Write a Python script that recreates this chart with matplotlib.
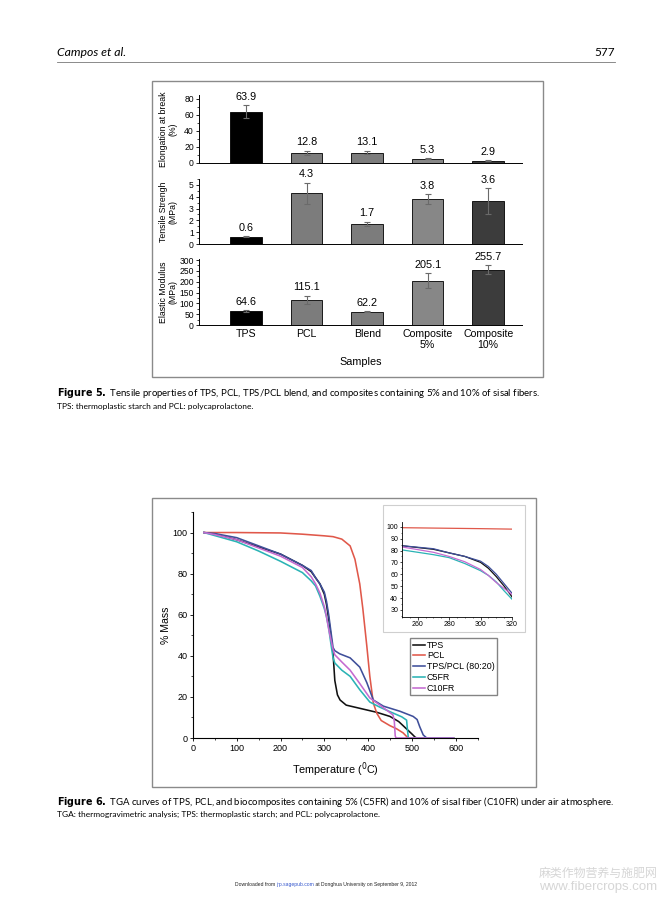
import numpy as np
import matplotlib.pyplot as plt
from matplotlib.patches import Rectangle
from matplotlib.lines import Line2D
from matplotlib.ticker import MultipleLocator

# ---- Figure 5 data ----
samples = ["TPS", "PCL", "Blend", "Composite\n5%", "Composite\n10%"]
elong = [63.9, 12.8, 13.1, 5.3, 2.9]
elong_err = [8.0, 2.5, 2.0, 0.8, 0.8]
tensile = [0.6, 4.3, 1.7, 3.8, 3.6]
tensile_err = [0.05, 0.9, 0.2, 0.4, 1.1]
modulus = [64.6, 115.1, 62.2, 205.1, 255.7]
modulus_err = [3.0, 20.0, 2.0, 33.0, 20.0]
bar_colors = ["#000000", "#7c7c7c", "#7c7c7c", "#878787", "#3c3c3c"]

# ---- Figure 6 data (TGA) ----
tps_T = [25, 50, 100, 150, 200, 250, 270, 280, 290, 300, 305, 310, 315, 320, 324, 330, 336, 350, 380, 420, 450, 470, 490, 500, 508, 512, 595]
tps_m = [100, 99.3, 96.5, 93, 89.5, 84, 81, 78, 75, 70, 65, 58, 50, 41, 28, 21, 18.5, 16, 14.5, 12.5, 10.5, 8, 4, 2, 0.3, 0, 0]
pcl_T = [25, 100, 200, 250, 300, 320, 340, 359, 370, 381, 388, 397, 404, 412, 420, 430, 450, 465, 480, 490, 495, 595]
pcl_m = [100, 100, 99.8, 99.2, 98.4, 98, 96.8, 93.5, 87, 75, 63, 45, 30, 17, 12, 8.5, 6, 4.5, 2.5, 0.3, 0, 0]
blend_T = [25, 50, 100, 150, 200, 250, 270, 280, 290, 300, 305, 310, 315, 320, 324, 335, 359, 381, 397, 412, 435, 473, 503, 512, 518, 526, 534, 595]
blend_m = [100, 99.5, 97.5, 93.5, 89.5, 84, 81.5, 78, 75, 71, 66.5, 60, 52, 44, 42.5, 41, 39, 34.5, 27, 18.5, 15.5, 13, 10.5, 9, 5.5, 1.5, 0, 0]
c5_T = [25, 50, 100, 150, 200, 250, 270, 280, 290, 300, 305, 310, 315, 320, 324, 340, 359, 381, 404, 427, 450, 477, 488, 490, 492, 595]
c5_m = [100, 98.5, 95.5, 91, 86, 80.5, 76.5, 74, 69, 63, 59, 53.5, 46, 39, 36.5, 33, 30, 23.5, 17.5, 15, 12.8, 10.3, 8.7, 4, 0, 0]
c10_T = [25, 50, 100, 150, 200, 250, 270, 280, 290, 300, 305, 310, 315, 320, 324, 340, 359, 381, 404, 427, 446, 457, 460, 462, 464, 595]
c10_m = [100, 99, 96.5, 92.5, 88.5, 83, 78.5, 75, 70.5, 64, 59, 53, 48, 43, 40.5, 37, 33, 26.5, 19.5, 16, 13, 11.2, 8, 1, 0, 0]
tga_labels = ["TPS", "PCL", "TPS/PCL (80:20)", "C5FR", "C10FR"]
tga_colors = ["#111111", "#e0584a", "#3f4f9a", "#2bb3b5", "#c46ad0"]

W, H = 672, 897
plt.rcParams["font.family"] = ["Liberation Sans", "DejaVu Sans"]
fig = plt.figure(figsize=(W / 100, H / 100), dpi=100)
fig.patch.set_facecolor("white")


def box(x0, y0, x1, y1):
    return [x0 / W, 1 - y1 / H, (x1 - x0) / W, (y1 - y0) / H]


def ptext(x, y, s, **kw):
    return fig.text(x / W, 1 - y / H, s, **kw)


def frame(x0, y0, x1, y1, color="#8a8a8a", lw=1.0):
    fig.patches.append(Rectangle((x0 / W, 1 - y1 / H), (x1 - x0) / W, (y1 - y0) / H,
                                 transform=fig.transFigure, fill=False,
                                 edgecolor=color, linewidth=lw))


# header
ptext(57, 52, "Campos et al.", fontsize=8.8, style="italic", family="Lato", va="center")
ptext(615, 52, "577", fontsize=8.5, family="Lato", va="center", ha="right")
fig.add_artist(Line2D([57 / W, 615 / W], [1 - 62 / H, 1 - 62 / H], color="#777777", lw=0.6))

# ---- Figure 5 ----
frame(152, 81, 543, 377)
pos = np.arange(1, 6)
panels = [
    (box(199, 95, 522, 163), elong, elong_err, (0, 85), 20, 10, "Elongation at break\n(%)"),
    (box(199, 179, 522, 244), tensile, tensile_err, (0, 5.5), 1, 0.5, "Tensile Strengh\n(MPa)"),
    (box(199, 259, 522, 325), modulus, modulus_err, (0, 305), 50, 25, "Elastic Modulus\n(MPa)"),
]
for i, (rect, vals, errs, ylim, major, minor, ylab) in enumerate(panels):
    ax = fig.add_axes(rect)
    ax.bar(pos, vals, width=0.52, color=bar_colors, edgecolor="black", linewidth=0.6,
           yerr=errs, error_kw=dict(ecolor="#6a6a6a", elinewidth=0.8, capsize=2, capthick=0.8))
    for p, v, e in zip(pos, vals, errs):
        ax.annotate(f"{v:.1f}", (p, v + e), xytext=(0, 2.5), textcoords="offset points",
                    ha="center", va="bottom", fontsize=7.8, annotation_clip=False)
    ax.set_xlim(0.22, 5.56)
    ax.set_ylim(*ylim)
    ax.yaxis.set_major_locator(MultipleLocator(major))
    ax.yaxis.set_minor_locator(MultipleLocator(minor))
    ax.tick_params(axis="y", labelsize=6.2, length=2.5, width=0.6, pad=1.2)
    ax.tick_params(axis="y", which="minor", length=1.5, width=0.5)
    ax.spines["top"].set_visible(False)
    ax.spines["right"].set_visible(False)
    for s in ("left", "bottom"):
        ax.spines[s].set_linewidth(0.7)
    ax.set_ylabel(ylab, fontsize=6.3, linespacing=1.05)
    ax.yaxis.set_label_coords(-0.066, 0.5)
    ax.set_xticks(pos)
    if i < 2:
        ax.set_xticklabels([])
        ax.tick_params(axis="x", length=0)
    else:
        ax.set_xticklabels(samples, fontsize=7.6, linespacing=1.05)
        ax.tick_params(axis="x", length=0, pad=3)
        ax.set_xlabel("Samples", fontsize=7.8, labelpad=5)

ptext(57, 393, r"$\bf{Figure\ 5.}$ Tensile properties of TPS, PCL, TPS/PCL blend, and composites containing 5% and 10% of sisal fibers.",
      fontsize=6.95, family="Lato", va="center")
ptext(57, 406, "TPS: thermoplastic starch and PCL: polycaprolactone.", fontsize=6.0, family="Lato", va="center")

# ---- Figure 6 ----
frame(152, 498, 536, 787)
series = [(tps_T, tps_m), (pcl_T, pcl_m), (blend_T, blend_m), (c5_T, c5_m), (c10_T, c10_m)]

ax6 = fig.add_axes(box(193, 512, 477.5, 738))
for (t, m), lab, col in zip(series, tga_labels, tga_colors):
    ax6.plot(t, m, color=col, lw=1.15, label=lab)
ax6.set_xlim(0, 650)
ax6.set_ylim(0, 110)
ax6.set_xticks([0, 100, 200, 300, 400, 500, 600])
ax6.set_yticks([0, 20, 40, 60, 80, 100])
ax6.xaxis.set_minor_locator(MultipleLocator(50))
ax6.yaxis.set_minor_locator(MultipleLocator(10))
ax6.tick_params(labelsize=6.5, length=2.5, width=0.6, pad=1.5)
ax6.tick_params(which="minor", length=1.5, width=0.5)
ax6.spines["top"].set_visible(False)
ax6.spines["right"].set_visible(False)
ax6.set_xlabel(r"Temperature ($^{0}$C)", fontsize=7.8, labelpad=6)
ax6.set_ylabel("% Mass", fontsize=7.6)
ax6.yaxis.set_label_coords(-0.077, 0.5)
ax6.legend(loc="upper left", bbox_to_anchor=((410 - 193) / 284.5, 1 - (638 - 512) / 226),
           fontsize=6.4, frameon=True, fancybox=False, edgecolor="#666666",
           handlelength=1.4, handletextpad=0.2, borderpad=0.3, labelspacing=0.2,
           borderaxespad=0)

# inset
frame(383, 505, 525, 632, color="#cfcfcf", lw=0.8)
axi = fig.add_axes(box(402, 522, 512, 617))
for (t, m), col in zip(series, tga_colors):
    axi.plot(t, m, color=col, lw=0.9)
axi.set_xlim(250, 320)
axi.set_ylim(24, 104)
axi.set_xticks([260, 280, 300, 320])
axi.set_yticks(np.arange(30, 101, 10))
axi.xaxis.set_minor_locator(MultipleLocator(5))
axi.yaxis.set_minor_locator(MultipleLocator(5))
axi.tick_params(labelsize=5.0, length=1.8, width=0.5, pad=1)
axi.tick_params(which="minor", length=1.0, width=0.4)
axi.spines["top"].set_visible(False)
axi.spines["right"].set_visible(False)
for s in ("left", "bottom"):
    axi.spines[s].set_linewidth(0.6)

ptext(57, 802, r"$\bf{Figure\ 6.}$ TGA curves of TPS, PCL, and biocomposites containing 5% (C5FR) and 10% of sisal fiber (C10FR) under air atmosphere.",
      fontsize=6.9, family="Lato", va="center")
ptext(57, 814, "TGA: thermogravimetric analysis; TPS: thermoplastic starch; and PCL: polycaprolactone.",
      fontsize=6.0, family="Lato", va="center")

# footer, pieces placed one after another
renderer = fig.canvas.get_renderer()
x = 235
for piece, col in [("Downloaded from ", "#222222"), ("jrp.sagepub.com", "#3355cc"),
                   (" at Donghua University on September 9, 2012", "#222222")]:
    t = ptext(x, 884, piece, fontsize=3.6, va="center", color=col)
    x += t.get_window_extent(renderer).width

ptext(598, 873, "麻类作物营养与施肥网", fontsize=8.6, family=["Noto Sans CJK SC", "DejaVu Sans"],
      ha="center", va="center", color="#d6d6d6")
ptext(598, 887, "www.fibercrops.com", fontsize=9.5, ha="center", va="center", color="#d6d6d6")

fig.savefig("out.png", dpi=100)
